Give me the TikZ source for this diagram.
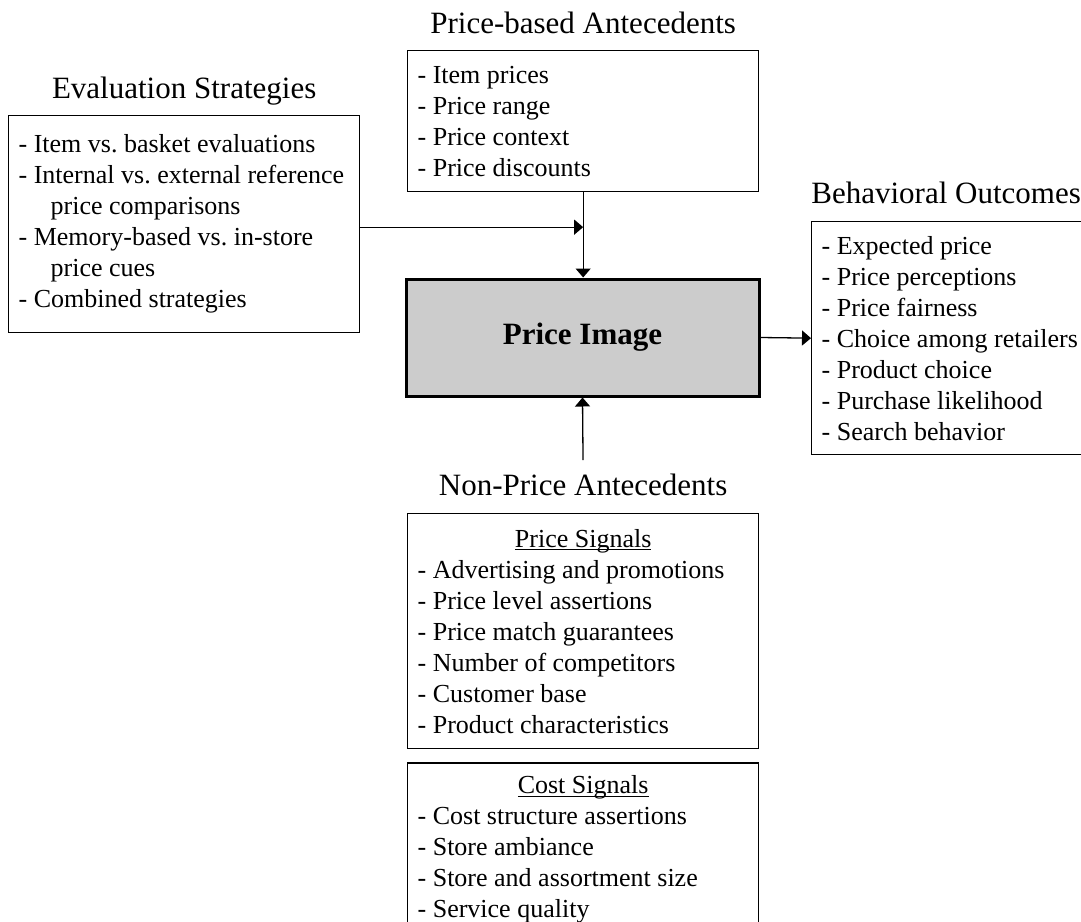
\documentclass[tikz,border=0pt]{standalone}
\usepackage{fontspec}
\setmainfont{Liberation Serif}
\usetikzlibrary{arrows.meta,positioning}

\definecolor{boxgray}{HTML}{CCCCCC}
\newcommand{\more}{\hspace*{16pt}}
\newsavebox{\ulbox}
\newcommand{\ulined}[1]{\sbox{\ulbox}{#1}\rlap{\rule[-1.6pt]{\wd\ulbox}{0.6pt}}\usebox{\ulbox}}
\frenchspacing
\tikzset{
  listbox/.style={draw, line width=0.65pt, anchor=north west, text width=165.5pt,
    inner xsep=5pt, inner ysep=2pt, align=flush left, font=\fontsize{13}{15.5}\selectfont},
  heading/.style={inner sep=0pt, font=\fontsize{15.5}{18}\selectfont},
  link/.style={line width=0.65pt, -{Triangle[length=4.5pt,width=7.5pt]}}
}

\begin{document}
\begin{tikzpicture}[x=0.5pt,y=-0.5pt]
  \useasboundingbox (0,0) rectangle (1081,921);
  \clip (0,0) rectangle (1081,921);
  \node[draw, line width=1.5pt, fill=boxgray, minimum width=176.5pt, minimum height=58.5pt,
    font=\fontsize{15.5}{18}\selectfont\bfseries] (image) at (582.5,337.5) {Price Image};
  \node[listbox, minimum height=108.5pt] (eval) at (8,115)
    {- Item vs. basket evaluations\\- Internal vs. external reference\\\more price comparisons\\
     - Memory-based vs. in-store\\\more price cues\\- Combined strategies};
  \node[listbox, minimum height=70.5pt] (pricebased) at (407,50)
    {- Item prices\\- Price range\\- Price context\\- Price discounts};
  \node[listbox, minimum height=116.5pt] (outcomes) at (811,221)
    {- Expected price\\- Price perceptions\\- Price fairness\\- Choice among retailers\\
     - Product choice\\- Purchase likelihood\\- Search behavior};
  \node[listbox, minimum height=117.5pt] (signals) at (407,513)
    {\makebox[\linewidth]{\ulined{Price Signals}}\\- Advertising and promotions\\
     - Price level assertions\\- Price match guarantees\\- Number of competitors\\
     - Customer base\\- Product characteristics};
  \node[listbox, minimum height=86.5pt, below=6.5pt of signals] (cost)
    {\makebox[\linewidth]{\ulined{Cost Signals}}\\- Cost structure assertions\\
     - Store ambiance\\- Store and assortment size\\- Service quality};

  \node[heading, above=8.5pt of eval, anchor=base] (evalhead) {Evaluation Strategies};
  \node[heading, above=8.5pt of pricebased, anchor=base] (pricehead) {Price-based Antecedents};
  \node[heading, above=9pt of outcomes.north west, anchor=base west] (outhead) {Behavioral Outcomes};
  \node[heading, above=9pt of signals, anchor=base] (nonpricehead) {Non-Price Antecedents};

  \draw[link] ([yshift=-1.5pt]eval.east) -- ([yshift=-1.5pt]eval.east -| pricebased.south);
  \draw[link] (pricebased.south) -- (pricebased.south |- image.north);
  \draw[link] (image.east) -- (outcomes.west);
  \draw[link, shorten <=6.5pt] (nonpricehead.north) -- (image.south);
\end{tikzpicture}
\end{document}
